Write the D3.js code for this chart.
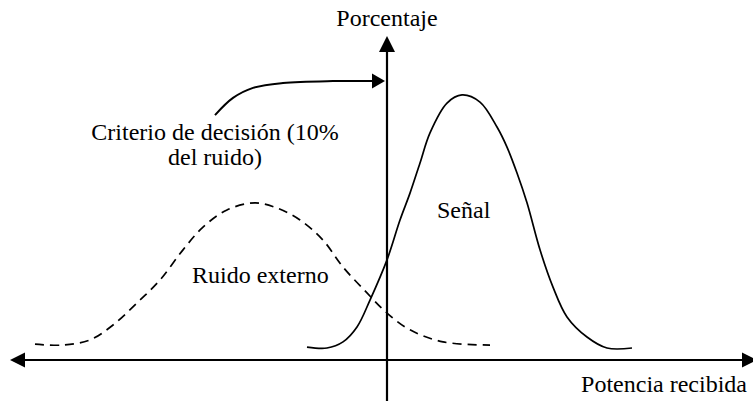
<!DOCTYPE html>
<html>
<head>
<meta charset="utf-8">
<script src="https://cdn.jsdelivr.net/npm/d3@7"></script>
<style>
  body { margin: 0; background: #fff; }
</style>
</head>
<body>
<div id="chart"></div>
<script>
// Curve data (potencia in arbitrary units, 0 = decision criterion; porcentaje 0-100)
const senalX = [-8.0, -6.0, -4.4, -3.0, -1.7, 0, 1.3, 2.3, 3.3, 4.3, 6.0, 7.5, 9.3, 11.0, 12.0, 13.0, 14.0, 15.3, 16.6, 18.0, 20.0, 22.0, 24.5];
const senalY = [4.0, 3.7, 5.6, 10.2, 18.5, 30.9, 43.2, 51.5, 60.8, 70.1, 79.3, 81.8, 79.6, 71.9, 65.7, 57.7, 48.5, 34.0, 22.5, 13.3, 7.1, 3.7, 3.7];

const ruidoX = [-35.2, -32.4, -29.7, -27.4, -25.0, -22.7, -20.4, -18.4, -16.0, -13.2, -11.0, -8.7, -6.4, -4.4, -2.0, 0, 2.3, 5.6, 10.3];
const ruidoY = [4.9, 4.6, 6.2, 10.8, 17.6, 24.7, 34.0, 41.0, 46.3, 48.5, 46.9, 43.2, 37.0, 28.7, 20.7, 14.5, 9.3, 5.6, 4.6];

// Annotation arrow pointing at the criterion on the vertical axis
const criterioX = [-17.2, -15.4, -13.4, -10.4, -5.4, -1.5];
const criterioY = [75.6, 80.9, 84.0, 85.5, 86.1, 86.1];

const labels = [
  { text: 'Porcentaje', x: 0, y: 103, anchor: 'middle' },
  { text: 'Criterio de decisión (10%', x: -17.2, y: 67.9, anchor: 'middle' },
  { text: 'del ruido)', x: -17.2, y: 60.2, anchor: 'middle' },
  { text: 'Señal', x: 5.0, y: 43.8, anchor: 'start' },
  { text: 'Ruido externo', x: -19.5, y: 23.8, anchor: 'start' },
  { text: 'Potencia recibida', x: 36.0, y: -9.9, anchor: 'end' }
];

const width = 753;
const height = 401;

const svg = d3.select('#chart')
  .append('svg')
  .attr('width', width)
  .attr('height', height);

const xScale = d3.scaleLinear().domain([-38, 37]).range([7, 757]);
const yScale = d3.scaleLinear().domain([0, 100]).range([360, 36]);

// Arrowhead helper (tip at x,y pointing in direction dx,dy)
function arrowHead(x, y, dx, dy, len, half) {
  const px = -dy, py = dx;
  const bx = x - dx * len, by = y - dy * len;
  return `M${x},${y}L${bx + px * half},${by + py * half}L${bx - px * half},${by - py * half}Z`;
}

// Horizontal axis
const x0 = xScale(-37.7), x1 = xScale(37);
const yAxis0 = yScale(0);
svg.append('line')
  .attr('x1', x0 + 10).attr('x2', x1 - 10)
  .attr('y1', yAxis0).attr('y2', yAxis0)
  .attr('stroke', '#000').attr('stroke-width', 2.2);
svg.append('path').attr('d', arrowHead(x0, yAxis0, -1, 0, 15, 7.5)).attr('fill', '#000');
svg.append('path').attr('d', arrowHead(x1, yAxis0, 1, 0, 15, 7.5)).attr('fill', '#000');

// Vertical axis
const xAxis0 = xScale(0);
svg.append('line')
  .attr('x1', xAxis0).attr('x2', xAxis0)
  .attr('y1', yScale(-13)).attr('y2', yScale(100) + 10)
  .attr('stroke', '#000').attr('stroke-width', 2.2);
svg.append('path').attr('d', arrowHead(xAxis0, yScale(100), 0, -1, 16, 8)).attr('fill', '#000');

const line = d3.line()
  .x(d => xScale(d[0]))
  .y(d => yScale(d[1]))
  .curve(d3.curveCatmullRom.alpha(0.5));

// Signal curve
svg.append('path')
  .datum(d3.zip(senalX, senalY))
  .attr('d', line)
  .attr('fill', 'none')
  .attr('stroke', '#000')
  .attr('stroke-width', 1.7);

// Noise curve (dashed)
svg.append('path')
  .datum(d3.zip(ruidoX, ruidoY))
  .attr('d', line)
  .attr('fill', 'none')
  .attr('stroke', '#000')
  .attr('stroke-width', 1.7)
  .attr('stroke-dasharray', '9,6');

// Criterion annotation arrow
svg.append('path')
  .datum(d3.zip(criterioX, criterioY))
  .attr('d', line)
  .attr('fill', 'none')
  .attr('stroke', '#000')
  .attr('stroke-width', 2);
svg.append('path')
  .attr('d', arrowHead(xScale(-0.2), yScale(86.1), 1, 0, 13, 7.5))
  .attr('fill', '#000');

// Text labels
svg.selectAll('.label')
  .data(labels)
  .enter()
  .append('text')
  .attr('class', 'label')
  .attr('x', d => xScale(d.x))
  .attr('y', d => yScale(d.y))
  .attr('text-anchor', d => d.anchor)
  .attr('fill', '#000')
  .style('font-family', "'Liberation Serif'")
  .style('font-size', '24px')
  .text(d => d.text);
</script>
</body>
</html>
